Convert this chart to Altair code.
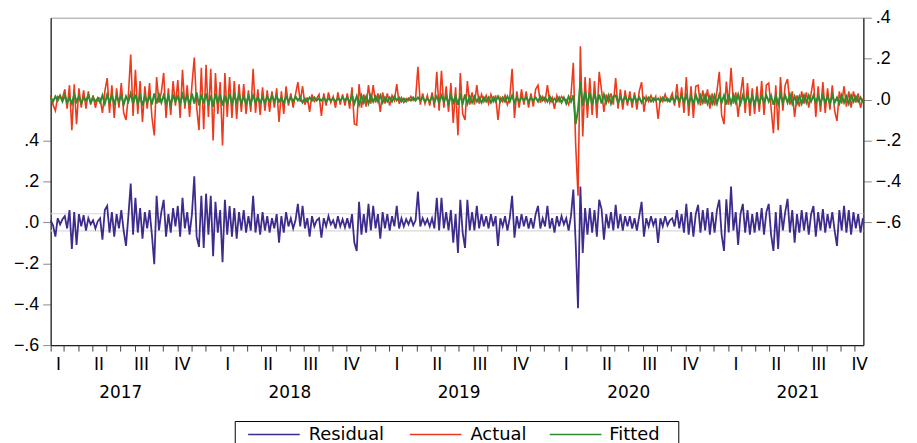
import altair as alt
import pandas as pd

# ---------------- data (6 readings per month) ----------------
residual = [
    0.01, -0.015, -0.07, 0.02, -0.01, 0.015,      # 2017 Feb
    0.03, -0.03, 0.06, -0.13, 0.05, -0.11,        # Mar
    0.04, -0.02, 0.035, -0.04, 0.02, -0.01,       # Apr
    0.01, -0.03, 0.005, 0.02, -0.085, 0.06,       # May
    0.08, -0.05, 0.05, -0.07, 0.04, -0.03,        # Jun
    0.06, -0.04, -0.115, 0.03, 0.19, -0.06,       # Jul
    0.12, -0.05, 0.07, -0.08, 0.05, -0.03,        # Aug
    0.06, -0.06, -0.205, 0.13, -0.04, 0.05,       # Sep
    0.11, -0.07, 0.04, -0.05, 0.07, -0.02,        # Oct
    0.08, -0.07, 0.12, -0.03, 0.05, -0.06,        # Nov
    0.04, 0.225, -0.07, -0.12, 0.13, -0.125,      # Dec
    0.14, -0.06, 0.13, -0.165, 0.10, -0.05,       # 2018 Jan
    0.06, -0.195, 0.11, -0.06, 0.08, -0.07,       # Feb
    0.07, -0.08, 0.05, -0.04, 0.06, -0.05,        # Mar
    0.03, -0.04, 0.13, -0.05, 0.04, -0.06,        # Apr
    0.05, -0.04, 0.03, -0.05, 0.02, -0.03,        # May
    0.04, -0.10, 0.03, -0.05, 0.05, -0.02,        # Jun
    0.02, -0.03, 0.01, 0.09, -0.02, 0.08,         # Jul
    -0.03, 0.02, -0.07, 0.03, -0.02, 0.01,        # Aug
    0.02, -0.075, 0.02, -0.02, 0.03, -0.01,       # Sep
    0.01, -0.03, 0.03, -0.02, 0.015, -0.025,      # Oct
    0.02, -0.03, 0.04, -0.10, -0.14, 0.10,        # Nov
    -0.06, 0.04, -0.05, 0.09, -0.04, 0.08,        # Dec
    -0.03, 0.04, -0.08, 0.05, -0.03, 0.04,        # 2019 Jan
    -0.04, 0.03, -0.02, 0.08, -0.03, 0.02,        # Feb
    -0.02, 0.015, -0.01, 0.02, -0.015, 0.01,      # Mar
    0.15, -0.02, 0.02, -0.01, 0.015, -0.02,       # Apr
    0.02, -0.03, 0.12, -0.04, 0.12, -0.03,        # May
    0.05, -0.04, 0.06, -0.10, 0.04, -0.15,        # Jun
    0.11, -0.05, -0.125, 0.11, -0.04, 0.05,       # Jul
    -0.04, 0.08, -0.03, 0.04, -0.02, 0.03,        # Aug
    -0.03, 0.04, -0.02, 0.03, -0.115, 0.02,       # Sep
    -0.02, 0.03, -0.04, 0.02, 0.13, -0.075,       # Oct
    0.03, -0.03, 0.04, -0.02, 0.03, -0.03,        # Nov
    0.02, -0.03, 0.04, 0.08, -0.03, 0.02,         # Dec
    -0.02, 0.08, -0.03, 0.02, -0.05, 0.03,        # 2020 Jan
    -0.02, 0.03, -0.01, 0.02, -0.04, 0.03,        # Feb
    0.16, -0.10, -0.42, 0.175, -0.15, 0.07,       # Mar
    -0.06, 0.07, -0.05, 0.06, -0.07, 0.11,        # Apr
    0.065, -0.085, 0.04, -0.03, 0.05, -0.04,      # May
    0.085, -0.03, 0.04, -0.04, 0.03, -0.02,       # Jun
    0.03, -0.03, 0.02, -0.04, 0.03, 0.10,         # Jul
    -0.07, 0.02, -0.02, 0.03, -0.015, 0.02,       # Aug
    -0.10, 0.02, -0.02, 0.03, -0.015, 0.01,       # Sep
    0.02, -0.02, 0.06, -0.03, 0.04, -0.05,        # Oct
    0.09, -0.06, 0.05, -0.07, 0.04, 0.085,        # Nov
    -0.05, 0.06, -0.04, 0.07, -0.06, 0.05,        # Dec
    -0.05, 0.06, 0.11, -0.06, -0.14, 0.113,       # 2021 Jan
    -0.05, 0.175, -0.04, 0.05, -0.11, 0.04,       # Feb
    0.09, -0.05, 0.06, -0.06, 0.04, -0.05,        # Mar
    0.05, -0.04, 0.07, -0.06, 0.05, 0.09,         # Apr
    -0.06, -0.14, 0.05, -0.13, 0.085, -0.04,      # May
    0.05, 0.115, -0.05, 0.06, -0.10, 0.04,        # Jun
    -0.05, 0.06, -0.04, 0.05, -0.06, 0.04,        # Jul
    0.08, -0.07, 0.05, -0.04, 0.065, -0.05,       # Aug
    0.04, -0.03, 0.05, -0.04, -0.115, 0.06,       # Sep
    -0.04, 0.08, -0.05, 0.06, -0.06, 0.05,        # Oct
    -0.03, 0.04, -0.05, 0.02,                     # Nov
]

fitted = [
    0.01, -0.01, 0.015, -0.005, 0.02, -0.01,
    0.02, -0.015, 0.01, -0.02, 0.025, -0.01,
    0.015, -0.02, 0.01, -0.005, 0.02, -0.015,
    0.01, -0.01, 0.005, -0.015, 0.02, -0.02,
    0.025, -0.015, 0.02, -0.02, 0.015, -0.01,
    0.02, -0.025, 0.015, -0.01, 0.03, -0.02,
    0.025, -0.02, 0.02, -0.03, 0.015, -0.015,
    0.02, -0.025, 0.03, -0.02, 0.025, -0.015,
    0.02, -0.02, 0.015, -0.025, 0.02, -0.01,
    0.015, -0.02, 0.025, -0.015, 0.02, -0.025,
    0.03, -0.02, 0.035, -0.03, 0.025, -0.02,
    0.03, -0.025, 0.02, -0.035, 0.03, -0.02,
    0.025, -0.03, 0.02, -0.025, 0.03, -0.02,
    0.02, -0.015, 0.025, -0.02, 0.015, -0.02,
    0.015, -0.02, 0.02, -0.015, 0.01, -0.015,
    0.01, -0.015, 0.015, -0.01, 0.02, -0.01,
    0.015, -0.01, 0.01, -0.02, 0.015, -0.01,
    0.01, -0.01, 0.015, -0.005, 0.01, -0.015,
    0.005, -0.01, 0.01, -0.005, 0.01, -0.005,
    0.005, -0.005, 0.01, -0.01, 0.005, -0.005,
    0.005, -0.01, 0.005, -0.005, 0.01, -0.005,
    0.01, -0.015, 0.02, -0.02, 0.015, -0.025,
    0.02, -0.015, 0.015, -0.02, 0.02, -0.01,
    0.015, -0.01, 0.02, -0.015, 0.01, -0.01,
    0.01, -0.01, 0.015, -0.005, 0.01, -0.01,
    0.005, -0.01, 0.005, -0.005, 0.01, -0.005,
    0.01, -0.005, 0.01, -0.01, 0.005, -0.01,
    0.015, -0.01, 0.015, -0.015, 0.02, -0.01,
    0.015, -0.02, 0.02, -0.015, 0.02, -0.025,
    0.02, -0.02, 0.025, -0.02, 0.015, -0.015,
    0.015, -0.01, 0.01, -0.015, 0.01, -0.01,
    0.01, -0.015, 0.01, -0.01, 0.015, -0.01,
    0.01, -0.01, 0.015, -0.01, 0.02, -0.015,
    0.01, -0.01, 0.01, -0.005, 0.01, -0.01,
    0.01, -0.005, 0.01, -0.01, 0.015, -0.005,
    0.01, -0.01, 0.015, -0.01, 0.005, -0.01,
    0.01, -0.015, 0.01, -0.02, 0.015, -0.01,
    0.02, -0.12, -0.05, 0.085, -0.03, 0.04,
    -0.03, 0.035, -0.025, 0.03, -0.02, 0.025,
    -0.02, 0.025, -0.015, 0.02, -0.02, 0.015,
    0.02, -0.015, 0.01, -0.01, 0.015, -0.01,
    0.01, -0.01, 0.015, -0.01, 0.01, -0.015,
    0.01, -0.005, 0.01, -0.01, 0.005, -0.005,
    0.005, -0.01, 0.01, -0.005, 0.005, -0.01,
    0.01, -0.01, 0.015, -0.01, 0.02, -0.015,
    0.02, -0.02, 0.015, -0.02, 0.025, -0.015,
    0.02, -0.015, 0.02, -0.02, 0.015, -0.02,
    0.02, -0.02, 0.025, -0.015, 0.02, -0.025,
    0.025, -0.02, 0.02, -0.015, 0.025, -0.02,
    0.02, -0.015, 0.02, -0.02, 0.015, -0.02,
    0.015, -0.02, 0.02, -0.015, 0.02, -0.01,
    0.02, -0.025, 0.02, -0.02, 0.025, -0.015,
    0.02, -0.015, 0.025, -0.02, 0.015, -0.02,
    0.015, -0.02, 0.02, -0.015, 0.02, -0.01,
    0.02, -0.015, 0.015, -0.02, 0.02, -0.015,
    0.015, -0.02, 0.02, -0.015, 0.01, -0.02,
    0.02, -0.015, 0.015, -0.02, 0.02, -0.01,
    0.015, -0.01, 0.01, -0.015,
]

series_names = ["Residual", "Actual", "Fitted"]
series_colors = ["#3F2B8C", "#EE3A1C", "#2E8B2E"]
series_widths = [1.8, 1.6, 2.0]
band_values = [0.042, -0.042]
left_ticks = [-0.6, -0.4, -0.2, 0.0, 0.2, 0.4]
right_ticks = [-0.6, -0.4, -0.2, 0.0, 0.2, 0.4]
quarter_names = ["I", "II", "III", "IV"]
quarter_mid_days = ["02-18", "05-16", "08-16", "11-12"]
year_names = [2017, 2018, 2019, 2020, 2021]
first_day = "2017-02-01"
last_day = "2021-11-19"

# ---------------- tables ----------------
n = min(len(residual), len(fitted))
dates = pd.date_range(first_day, last_day, periods=n)
wide = pd.DataFrame({
    "date": dates.strftime("%Y-%m-%dT%H:%M:%S"),
    "Residual": residual[:n],
    "Fitted": fitted[:n],
})
wide["Actual"] = wide["Residual"] + wide["Fitted"]
long = wide.melt("date", var_name="series", value_name="value")

band_df = pd.DataFrame({"value": band_values})
q_df = pd.DataFrame({
    "date": [f"{y}-{d}T00:00:00" for y in year_names for d in quarter_mid_days],
    "label": quarter_names * len(year_names),
})
y_df = pd.DataFrame({
    "date": [f"{y}-07-02T00:00:00" for y in year_names],
    "label": [str(y) for y in year_names],
})

# ---------------- styles ----------------
XFONT = "DejaVu Sans"
YFONT = "Liberation Sans"
FS = 17
label_expr = "replace(format(datum.value, '.1f'), '0.', '.')"

x_enc = alt.X(
    "date:T",
    scale=alt.Scale(domain=[alt.DateTime(year=2017, month=2, date=1),
                            alt.DateTime(year=2021, month=11, date=20)]),
    axis=alt.Axis(title=None, labels=False, grid=False,
                  tickCount={"interval": "month", "step": 1},
                  tickSize=6, tickColor="#444", domainColor="#222", domainWidth=1.2),
)

def y_enc(domain, ticks, orient):
    return alt.Y(
        "value:Q",
        scale=alt.Scale(domain=domain, nice=False, zero=False),
        axis=alt.Axis(orient=orient, values=ticks, labelExpr=label_expr, title=None,
                      grid=False, tickSize=8, labelPadding=4, tickColor="#888",
                      domainColor="#222", domainWidth=1.2, labelFont=YFONT,
                      labelFontSize=18, labelColor="#000"),
    )

y_left = y_enc([-0.6, 1.0], left_ticks, "left")
y_right = y_enc([-1.2, 0.4], right_ticks, "right")

color = alt.Color("series:N",
                  scale=alt.Scale(domain=series_names, range=series_colors),
                  legend=None)

band = alt.Chart(band_df).mark_rule(color="#d8d8d8", strokeWidth=1.2).encode(y=y_left)

def series_line(name, y):
    w = series_widths[series_names.index(name)]
    return (alt.Chart(long).transform_filter(alt.datum.series == name)
            .mark_line(strokeWidth=w).encode(x=x_enc, y=y, color=color))

resid_line = series_line("Residual", y_left)
actual_line = series_line("Actual", y_right)
fitted_line = series_line("Fitted", y_right)

q_text = alt.Chart(q_df).mark_text(fontSize=FS, font=XFONT, baseline="middle",
                                   align="center", color="#000").encode(
    x=x_enc, y=alt.value(350), text="label:N")
yr_text = alt.Chart(y_df).mark_text(fontSize=FS, font=XFONT, baseline="middle",
                                    align="center", color="#000").encode(
    x=x_enc, y=alt.value(378), text="label:N")

# ---------------- legend box drawn below the plot ----------------
legend_df = pd.DataFrame({"series": series_names})
box = alt.Chart(legend_df.head(1)).mark_rect(fill="#ffffff", stroke="#000",
                                             strokeWidth=1).encode(
    x=alt.value(186), x2=alt.value(633), y=alt.value(407), y2=alt.value(445))
legend_sample_x = [199, 362, 503]
legend_label_x = [260, 423, 563]
legend_layers = []
for i, name in enumerate(series_names):
    one = legend_df[legend_df["series"] == name]
    legend_layers.append(
        alt.Chart(one).mark_rule(color=series_colors[i], strokeWidth=1.5).encode(
            x=alt.value(legend_sample_x[i]), x2=alt.value(legend_sample_x[i] + 52),
            y=alt.value(420)))
    legend_layers.append(
        alt.Chart(one).mark_text(fontSize=18, font=XFONT, align="left",
                                 baseline="alphabetic", color="#000").encode(
            x=alt.value(legend_label_x[i]), y=alt.value(426), text="series:N"))

chart = (
    alt.layer(
        alt.layer(band, resid_line),
        alt.layer(actual_line, fitted_line),
        q_text,
        yr_text,
        box,
        *legend_layers,
    )
    .resolve_scale(y="independent")
    .properties(width=819, height=330,
                autosize=alt.AutoSizeParams(type="none"),
                padding={"left": 43, "top": 8, "right": 46, "bottom": 110},
                background="#ffffff")
    .configure(font=XFONT)
    .configure_view(stroke="#999", strokeWidth=1)
)

chart.save("out.html", embed_options={"renderer": "svg", "actions": False})
